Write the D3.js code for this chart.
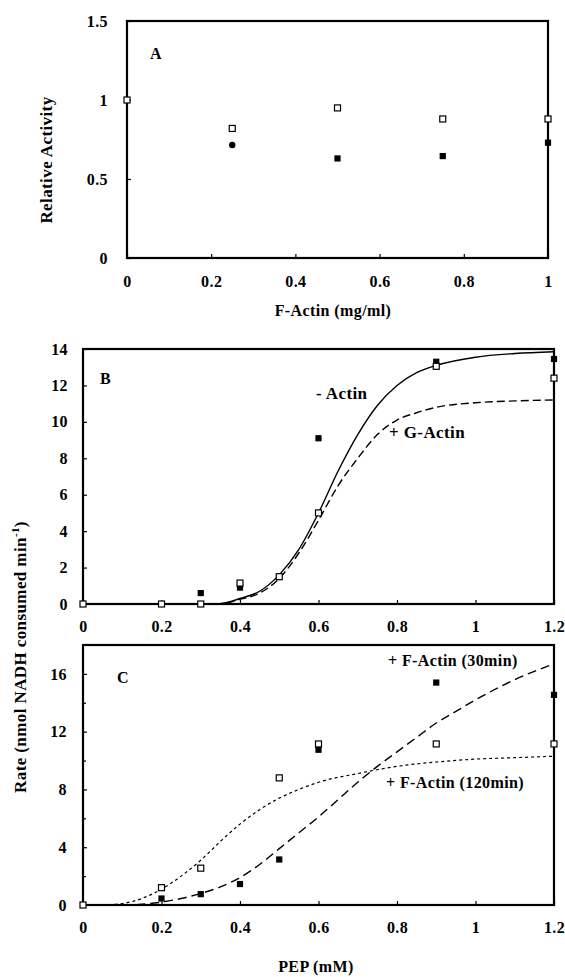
<!DOCTYPE html>
<html>
<head>
<meta charset="utf-8">
<script src="https://cdn.jsdelivr.net/npm/d3@7"></script>
<style>
  body { margin: 0; background: #fff; }
  svg text { font-family: "Liberation Serif", "Times New Roman", serif; font-weight: bold; letter-spacing: 0.4px; }
  .tick text { font-size: 16px; }
</style>
</head>
<body>
<div id="chart"></div>
<script>
// --- panel A: relative activity vs F-actin
const actinConc = [0, 0.25, 0.5, 0.75, 1.0]
const actOpen = [1.0, 0.82, 0.95, 0.88, 0.88]
const actFilledX = [0.25, 0.5, 0.75, 1.0]
const actFilled = [0.715, 0.63, 0.645, 0.73]
const aXTicks = [0, 0.2, 0.4, 0.6, 0.8, 1]
const aYTicks = [0, 0.5, 1, 1.5]

// --- panel B: rate vs PEP, -actin / +G-actin
const bOpenX = [0, 0.2, 0.3, 0.4, 0.5, 0.6, 0.9, 1.2]
const bOpen = [0, 0, 0, 1.15, 1.5, 5.0, 13.05, 12.4]
const bFilledX = [0.3, 0.4, 0.6, 0.9, 1.2]
const bFilled = [0.6, 0.9, 9.1, 13.3, 13.45]
const bCurveX = [0, 0.3, 0.35, 0.4, 0.45, 0.5, 0.55, 0.6, 0.65, 0.7, 0.75, 0.8, 0.85, 0.9, 1.0, 1.1, 1.2]
const noActin = [0, 0, 0.02, 0.3, 0.7, 1.6, 3.0, 5.0, 7.3, 9.3, 10.9, 12.0, 12.7, 13.1, 13.55, 13.75, 13.85]
const gActin = [0, 0, 0.02, 0.25, 0.6, 1.4, 2.8, 4.6, 6.5, 8.0, 9.3, 10.1, 10.5, 10.8, 11.05, 11.15, 11.2]
const bYTicks = [0, 2, 4, 6, 8, 10, 12, 14]

// --- panel C: rate vs PEP, +F-actin 30 / 120 min
const cOpenX = [0, 0.2, 0.3, 0.5, 0.6, 0.9, 1.2]
const cOpen = [0, 1.2, 2.55, 8.8, 11.15, 11.15, 11.15]
const cFilledX = [0.2, 0.3, 0.4, 0.5, 0.6, 0.9, 1.2]
const cFilled = [0.45, 0.75, 1.45, 3.15, 10.75, 15.4, 14.55]
const f30X = [0.1, 0.15, 0.2, 0.25, 0.3, 0.35, 0.4, 0.45, 0.5, 0.55, 0.6, 0.65, 0.7, 0.75, 0.8, 0.85, 0.9, 0.95, 1.0, 1.1, 1.2]
const f30 = [0, 0.05, 0.2, 0.45, 0.8, 1.25, 1.9, 2.8, 3.9, 5.0, 6.1, 7.3, 8.5, 9.6, 10.6, 11.6, 12.6, 13.4, 14.2, 15.6, 16.7]
const f120X = [0.05, 0.1, 0.15, 0.2, 0.25, 0.3, 0.35, 0.4, 0.45, 0.5, 0.55, 0.6, 0.7, 0.8, 0.9, 1.0, 1.1, 1.2]
const f120 = [0, 0.1, 0.45, 1.1, 2.0, 3.1, 4.4, 5.6, 6.6, 7.4, 8.0, 8.5, 9.1, 9.6, 9.9, 10.1, 10.2, 10.3]
const cYTicks = [0, 4, 8, 12, 16]
const cYMinor = [2, 6, 10, 14]

const pepTicks = [0, 0.2, 0.4, 0.6, 0.8, 1, 1.2]

const W = 565, H = 977
const svg = d3.select('#chart').append('svg').attr('width', W).attr('height', H)

const zip = (xs, ys) => xs.map((x, i) => [x, ys[i]])
const fmt = d => String(d)

// builds one framed panel and returns its scales
function panel(o) {
  const x = d3.scaleLinear().domain(o.xDomain).range([o.left, o.right])
  const y = d3.scaleLinear().domain(o.yDomain).range([o.bottom, o.top])
  const g = svg.append('g')

  g.append('g')
    .attr('transform', `translate(0,${o.bottom})`)
    .call(d3.axisBottom(x).tickValues(o.xTicks).tickFormat(fmt).tickSizeInner(-4).tickSizeOuter(0).tickPadding(o.xPad))
  g.append('g')
    .attr('transform', `translate(${o.left},0)`)
    .call(d3.axisLeft(y).tickValues(o.yTicks).tickFormat(fmt).tickSizeInner(-4).tickSizeOuter(0).tickPadding(o.yPad))
  if (o.yMinor) {
    g.append('g')
      .attr('transform', `translate(${o.left},0)`)
      .call(d3.axisLeft(y).tickValues(o.yMinor).tickFormat('').tickSizeInner(-3).tickSizeOuter(0))
  }
  // d3 puts sans-serif / 10px on axis groups, drop it
  g.selectAll('g').attr('font-family', null).attr('font-size', null)
  g.selectAll('.domain').remove()
  g.selectAll('.tick line').attr('stroke', '#000').attr('stroke-width', 1.2)
  g.selectAll('.tick text').attr('fill', '#000')

  g.append('rect')
    .attr('x', o.left).attr('y', o.top)
    .attr('width', o.right - o.left).attr('height', o.bottom - o.top)
    .attr('fill', 'none').attr('stroke', '#000').attr('stroke-width', 2.2)

  return { x, y, g }
}

function line(p, pts, dash, width) {
  p.g.append('path')
    .datum(pts)
    .attr('d', d3.line().x(d => p.x(d[0])).y(d => p.y(d[1])).curve(d3.curveMonotoneX))
    .attr('fill', 'none').attr('stroke', '#000')
    .attr('stroke-width', width || 1.4)
    .attr('stroke-dasharray', dash || null)
}

function squares(p, pts, filled, s) {
  p.g.selectAll(null).data(pts).join('rect')
    .attr('x', d => p.x(d[0]) - s / 2).attr('y', d => p.y(d[1]) - s / 2)
    .attr('width', s).attr('height', s)
    .attr('fill', filled ? '#000' : '#fff')
    .attr('stroke', '#000').attr('stroke-width', 1.2)
}

function label(p, txt, x, y, size, anchor) {
  p.g.append('text').attr('x', x).attr('y', y)
    .attr('font-size', size).attr('text-anchor', anchor || 'start')
    .attr('dominant-baseline', 'middle').text(txt)
}

// ---- A
const A = panel({ xDomain: [0, 1], yDomain: [0, 1.5], left: 127, right: 548, top: 21, bottom: 258,
  xTicks: aXTicks, yTicks: aYTicks, xPad: 18, yPad: 19 })
label(A, 'A', 150, 55, 16)
squares(A, zip(actinConc, actOpen), false, 6)
A.g.append('circle').attr('cx', A.x(actFilledX[0])).attr('cy', A.y(actFilled[0])).attr('r', 3.2).attr('fill', '#000')
squares(A, zip(actFilledX.slice(1), actFilled.slice(1)), true, 5)
svg.append('text').attr('x', 333).attr('y', 312).attr('text-anchor', 'middle')
  .attr('dominant-baseline', 'middle').attr('font-size', 16).text('F-Actin  (mg/ml)')
svg.append('text').attr('transform', 'translate(48,160) rotate(-90)').attr('text-anchor', 'middle')
  .attr('dominant-baseline', 'middle').attr('font-size', 17).text('Relative Activity')

// ---- B
const B = panel({ xDomain: [0, 1.2], yDomain: [0, 14], left: 83, right: 554, top: 349, bottom: 604,
  xTicks: pepTicks, yTicks: bYTicks, xPad: 17, yPad: 15 })
label(B, 'B', 100, 380, 16)
line(B, zip(bCurveX, noActin), null, 1.4)
line(B, zip(bCurveX, gActin), '8,4', 1.4)
squares(B, zip(bFilledX, bFilled), true, 5)
squares(B, zip(bOpenX, bOpen), false, 6)
label(B, '- Actin', 316, 395, 17)
label(B, '+ G-Actin', 389, 434, 17)

// ---- C
const C = panel({ xDomain: [0, 1.2], yDomain: [0, 18], left: 83, right: 554, top: 645, bottom: 905,
  xTicks: pepTicks, yTicks: cYTicks, yMinor: cYMinor, xPad: 17, yPad: 16 })
label(C, 'C', 117, 679, 16)
line(C, zip(f30X, f30), '9,5', 1.4)
line(C, zip(f120X, f120), '3,3', 1.2)
squares(C, zip(cFilledX, cFilled), true, 5)
squares(C, zip(cOpenX, cOpen), false, 6)
label(C, '+ F-Actin (30min)', 388, 662, 16)
label(C, '+ F-Actin (120min)', 386, 784, 16)

svg.append('text').attr('x', 316).attr('y', 968).attr('text-anchor', 'middle')
  .attr('dominant-baseline', 'middle').attr('font-size', 16).text('PEP (mM)')
const yl = svg.append('text').attr('transform', 'translate(22,657) rotate(-90)').attr('text-anchor', 'middle')
  .attr('dominant-baseline', 'middle').attr('font-size', 17)
yl.append('tspan').text('Rate (nmol NADH consumed min')
yl.append('tspan').attr('font-size', 11).attr('dy', -6).text('-1')
yl.append('tspan').attr('dy', 6).text(')')
</script>
</body>
</html>
